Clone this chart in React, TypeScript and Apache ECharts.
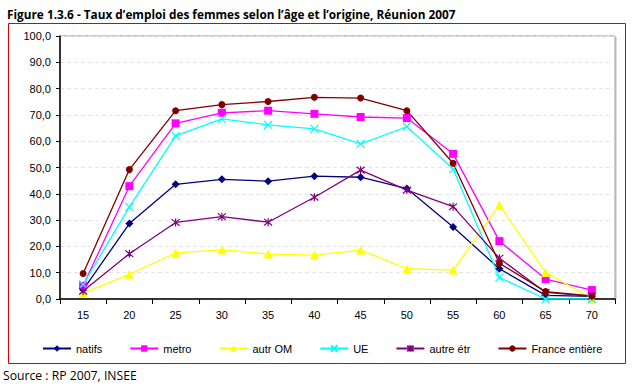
import React, { useEffect, useRef } from "react";
import * as echarts from "echarts";

const ages = ["15", "20", "25", "30", "35", "40", "45", "50", "55", "60", "65", "70"];
const natifs = [3.5, 28.7, 43.6, 45.5, 44.8, 46.7, 46.3, 42.0, 27.4, 11.5, 1.4, 1.0];
const metro = [5.0, 42.9, 66.8, 70.8, 71.6, 70.4, 69.2, 68.8, 55.2, 22.0, 7.6, 3.4];
const autrOM = [2.2, 9.4, 17.5, 18.7, 17.1, 16.7, 18.6, 11.5, 11.0, 35.7, 10.1, 0.2];
const ue = [5.5, 35.0, 62.0, 68.5, 66.2, 64.7, 59.0, 65.5, 49.4, 8.2, 0.0, 0.0];
const autreEtr = [3.0, 17.2, 29.1, 31.3, 29.2, 38.7, 49.0, 41.4, 35.1, 15.5, 2.5, 1.0];
const france = [9.7, 49.2, 71.6, 73.9, 75.1, 76.7, 76.4, 71.6, 51.6, 13.6, 2.8, 1.2];

const seriesNames = ["natifs", "metro", "autr OM", "UE", "autre étr", "France entière"];
const seriesColors = ["#000080", "#FF00FF", "#FFFF00", "#00FFFF", "#800080", "#800000"];

const X_PATH = "path://M0,0L10,10M10,0L0,10";
const STAR_PATH = "path://M0,0L10,10M10,0L0,10M5,-1L5,11";

export default function App() {
  const ref = useRef<HTMLDivElement>(null);
  useEffect(() => {
    if (!ref.current) return;
    const chart = echarts.init(ref.current, null, { renderer: "svg" });
    const data = [natifs, metro, autrOM, ue, autreEtr, france];
    const symbols = ["diamond", "rect", "triangle", X_PATH, STAR_PATH, "circle"];
    const sizes = [8, 8, 9, 8, 8, 7];
    const series = data.map((d, i) => {
      const isPath = i === 3 || i === 4;
      return {
        name: seriesNames[i],
        type: "line",
        data: d,
        symbol: symbols[i],
        symbolSize: sizes[i],
        showAllSymbol: true,
        lineStyle: { color: seriesColors[i], width: 1.3 },
        itemStyle: isPath
          ? { color: "rgba(0,0,0,0)", borderColor: seriesColors[i], borderWidth: 1.2 }
          : { color: seriesColors[i], borderWidth: 0 },
        emphasis: { disabled: true },
      };
    });
    chart.setOption({
      animation: false,
      backgroundColor: "#ffffff",
      title: {
        text: "Figure 1.3.6 - Taux d’emploi des femmes selon l’âge et l’origine, Réunion 2007",
        left: 2,
        top: 3,
        textStyle: { fontFamily: "Open Sans", fontSize: 11.8, fontWeight: "bold", color: "#000" },
      },
      graphic: [
        {
          type: "rect",
          shape: { x: 8.5, y: 23.5, width: 617, height: 340 },
          style: { fill: "none", stroke: "#dd0000", lineWidth: 1 },
          silent: true,
        },
        {
          type: "rect",
          shape: { x: 615, y: 37, width: 1.5, height: 262 },
          style: { fill: "#bbbbbb" },
          silent: true,
        },
        {
          type: "text",
          left: 3,
          top: 369,
          style: { text: "Source : RP 2007, INSEE", fontFamily: "Open Sans", fontSize: 12.2, fill: "#000" },
        },
      ],
      legend: {
        left: 42,
        top: 343,
        padding: 0,
        itemGap: 27,
        itemWidth: 28,
        itemHeight: 8,
        textStyle: { fontFamily: "Liberation Sans", fontSize: 11, color: "#000" },
        data: seriesNames,
      },
      grid: {
        left: 60,
        right: 23,
        top: 36,
        bottom: 91,
        show: true,
        borderColor: "#999999",
        borderWidth: 1,
        backgroundColor: "#ffffff",
      },
      xAxis: {
        type: "category",
        data: ages,
        boundaryGap: true,
        axisLine: { lineStyle: { color: "#000", width: 1.5 } },
        axisTick: { show: true, length: 5, lineStyle: { color: "#000" } },
        axisLabel: { color: "#000", fontFamily: "Liberation Sans", fontSize: 11, margin: 10 },
        splitLine: { show: false },
      },
      yAxis: {
        type: "value",
        min: 0,
        max: 100,
        interval: 10,
        axisLine: { show: true, lineStyle: { color: "#000", width: 1.5 } },
        axisTick: { show: true, length: 4, lineStyle: { color: "#000" } },
        axisLabel: {
          color: "#000",
          fontFamily: "Liberation Sans",
          fontSize: 11,
          margin: 9,
          formatter: (v: number) => v.toFixed(1).replace(".", ","),
        },
        splitLine: { show: true, lineStyle: { color: "#e4e4e4", type: [4, 3], width: 1 } },
      },
      series,
    });
    return () => chart.dispose();
  }, []);
  return (
    <div
      ref={ref}
      style={{ position: "fixed", left: 0, top: 0, width: 638, height: 390, background: "#fff" }}
    />
  );
}
